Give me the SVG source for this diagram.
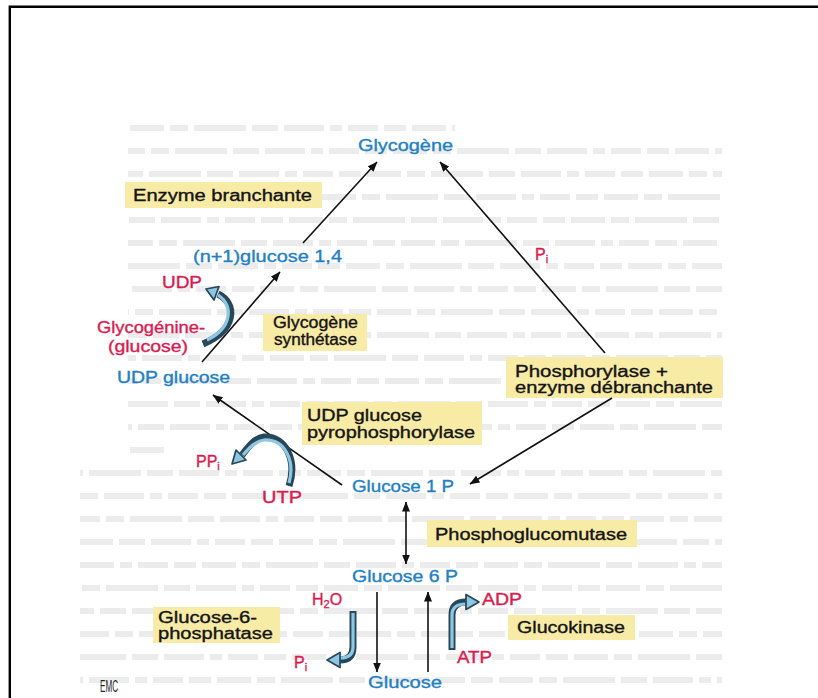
<svg xmlns="http://www.w3.org/2000/svg" width="818" height="698" viewBox="0 0 818 698">
  <style>
    text { font-family: "Liberation Sans", Arial, Helvetica, sans-serif; font-size: 16px; stroke-width: 0.35px; }
    .b { fill: #1f80c4; stroke: #1f80c4; }
    .r { fill: #d91c50; stroke: #d91c50; }
    .k { fill: #141414; stroke: #141414; }
    .box { fill: #f8eba6; }
    .thin { stroke: #111; stroke-width: 1.6; fill: none; marker-end: url(#ah); }
    .both { marker-start: url(#ah); }
    .fat-o { stroke: #27475a; stroke-width: 7; fill: none; stroke-linecap: butt; }
    .fat-i { stroke: #8fc6e2; stroke-width: 3.2; fill: none; }
    .head { fill: #8fc6e2; stroke: #27475a; stroke-width: 1.7; stroke-linejoin: round; }
    .bleed { stroke: #ececec; stroke-width: 6; fill: none; stroke-dasharray: 34 6 18 6 52 6 26 6 40 6 12 6 30 6 22 6; }
  </style>
  <defs>
    <marker id="ah" viewBox="0 0 10 8" refX="9.5" refY="4" markerWidth="10" markerHeight="8" markerUnits="userSpaceOnUse" orient="auto-start-reverse">
      <path d="M0,0 L10,4 L0,8 z" fill="#111"/>
    </marker>
  </defs>

  <rect width="818" height="698" fill="#ffffff"/>

  <!-- show-through of the reverse page -->
  <g id="page-texture" class="bleed">
    <path d="M130 128 H455" style="stroke-dashoffset:0"/>
    <path d="M128 151 H722" style="stroke-dashoffset:17"/>
    <path d="M128 174 H722" style="stroke-dashoffset:43"/>
    <path d="M128 197 H722" style="stroke-dashoffset:88"/>
    <path d="M128 220 H722" style="stroke-dashoffset:121"/>
    <path d="M128 243 H722" style="stroke-dashoffset:9"/>
    <path d="M128 266 H722" style="stroke-dashoffset:64"/>
    <path d="M128 289 H722" style="stroke-dashoffset:150"/>
    <path d="M128 312 H722" style="stroke-dashoffset:33"/>
    <path d="M128 335 H722" style="stroke-dashoffset:97"/>
    <path d="M128 358 H722" style="stroke-dashoffset:140"/>
    <path d="M128 381 H722" style="stroke-dashoffset:25"/>
    <path d="M128 404 H722" style="stroke-dashoffset:76"/>
    <path d="M128 427 H722" style="stroke-dashoffset:112"/>
    <path d="M130 450 H166" style="stroke-dashoffset:0"/>
    <path d="M80 473 H722" style="stroke-dashoffset:55"/>
    <path d="M80 496 H722" style="stroke-dashoffset:130"/>
    <path d="M80 519 H722" style="stroke-dashoffset:14"/>
    <path d="M80 542 H722" style="stroke-dashoffset:83"/>
    <path d="M80 565 H722" style="stroke-dashoffset:160"/>
    <path d="M80 588 H722" style="stroke-dashoffset:38"/>
    <path d="M80 611 H722" style="stroke-dashoffset:102"/>
    <path d="M80 634 H722" style="stroke-dashoffset:5"/>
    <path d="M80 657 H722" style="stroke-dashoffset:70"/>
    <path d="M80 680 H722" style="stroke-dashoffset:145"/>
  </g>

  <!-- page frame -->
  <path d="M9.8 698 V6.8 H818" stroke="#000" stroke-width="2.4" fill="none"/>

  <!-- enzyme boxes -->
  <g id="enzyme-branchante">
    <rect class="box" x="125" y="182" width="197" height="26"/>
    <text class="k" x="133" y="201" textLength="179" lengthAdjust="spacingAndGlyphs">Enzyme branchante</text>
  </g>
  <g id="glycogene-synthetase">
    <rect class="box" x="263" y="314" width="104" height="37"/>
    <text class="k" x="273" y="328" textLength="85" lengthAdjust="spacingAndGlyphs">Glycogène</text>
    <text class="k" x="274" y="345" textLength="83" lengthAdjust="spacingAndGlyphs">synthétase</text>
  </g>
  <g id="phosphorylase">
    <rect class="box" x="506" y="357" width="217" height="41"/>
    <text class="k" x="515" y="377" textLength="153" lengthAdjust="spacingAndGlyphs">Phosphorylase +</text>
    <text class="k" x="515" y="393" textLength="198" lengthAdjust="spacingAndGlyphs">enzyme débranchante</text>
  </g>
  <g id="udp-pyrophosphorylase">
    <rect class="box" x="302" y="402" width="180" height="43"/>
    <text class="k" x="307" y="421" textLength="115" lengthAdjust="spacingAndGlyphs">UDP glucose</text>
    <text class="k" x="307" y="438" textLength="168" lengthAdjust="spacingAndGlyphs">pyrophosphorylase</text>
  </g>
  <g id="phosphoglucomutase">
    <rect class="box" x="427" y="520" width="210" height="27"/>
    <text class="k" x="435" y="540" textLength="192" lengthAdjust="spacingAndGlyphs">Phosphoglucomutase</text>
  </g>
  <g id="glucokinase">
    <rect class="box" x="508" y="615" width="127" height="25"/>
    <text class="k" x="517" y="633" textLength="108" lengthAdjust="spacingAndGlyphs">Glucokinase</text>
  </g>
  <g id="glucose-6-phosphatase">
    <rect class="box" x="153" y="607" width="127" height="36"/>
    <text class="k" x="158" y="623" textLength="99" lengthAdjust="spacingAndGlyphs">Glucose-6-</text>
    <text class="k" x="158" y="639" textLength="115" lengthAdjust="spacingAndGlyphs">phosphatase</text>
  </g>

  <!-- connectors -->
  <g id="connectors">
    <line class="thin" x1="303" y1="243" x2="377" y2="162"/>
    <line class="thin" x1="202" y1="362" x2="280" y2="272"/>
    <line class="thin" x1="605" y1="353" x2="440" y2="162"/>
    <line class="thin" x1="612" y1="398" x2="470" y2="484"/>
    <line class="thin" x1="342" y1="485" x2="213" y2="395"/>
    <line class="thin both" x1="406" y1="502" x2="406" y2="564"/>
    <line class="thin" x1="377" y1="592" x2="377" y2="672"/>
    <line class="thin" x1="428" y1="672" x2="428" y2="592"/>

    <!-- Glycogénine -> UDP -->
    <path class="fat-o" d="M203 344 C236 330 238 304 218 294"/>
    <path class="fat-i" d="M207 340 C232 328 234 306 218 295"/>
    <polygon class="head" points="206,289 219,286.5 214,300"/>
    <!-- UTP -> PPi -->
    <path class="fat-o" d="M289 486 C297 462 287 436 264 437 C255 438 249 446 242 455"/>
    <path class="fat-i" d="M289 483 C295 462 286 439 264 440 C256 441 250 447 243 455"/>
    <polygon class="head" points="232,464 236,450 246,460"/>
    <!-- H2O -> Pi -->
    <path class="fat-o" d="M353 611 L353 647 Q353 660 340 660"/>
    <path class="fat-i" d="M353 613 L353 647 Q353 658 340 658"/>
    <polygon class="head" points="327,660 340,652.5 340,667.5"/>
    <!-- ATP -> ADP -->
    <path class="fat-o" d="M452 650 L452 615 Q452 602 466 602"/>
    <path class="fat-i" d="M452 648 L452 615 Q452 604 466 604"/>
    <polygon class="head" points="479,602 466,594.5 466,609.5"/>
  </g>

  <!-- metabolites -->
  <g id="glycogene"><text class="b" x="358" y="151" textLength="95" lengthAdjust="spacingAndGlyphs">Glycogène</text></g>
  <g id="n1-glucose"><text class="b" x="193" y="262" textLength="149" lengthAdjust="spacingAndGlyphs">(n+1)glucose 1,4</text></g>
  <g id="udp-glucose"><text class="b" x="117" y="383" textLength="113" lengthAdjust="spacingAndGlyphs">UDP glucose</text></g>
  <g id="glucose-1p"><text class="b" x="352" y="492" textLength="102" lengthAdjust="spacingAndGlyphs">Glucose 1 P</text></g>
  <g id="glucose-6p"><text class="b" x="352" y="582" textLength="106" lengthAdjust="spacingAndGlyphs">Glucose 6 P</text></g>
  <g id="glucose"><text class="b" x="368" y="688" textLength="74" lengthAdjust="spacingAndGlyphs">Glucose</text></g>

  <!-- cofactors -->
  <g id="udp"><text class="r" x="162" y="288" textLength="40" lengthAdjust="spacingAndGlyphs">UDP</text></g>
  <g id="glycogenine">
    <text class="r" x="97" y="333" textLength="108" lengthAdjust="spacingAndGlyphs">Glycogénine-</text>
    <text class="r" x="108" y="352" textLength="80" lengthAdjust="spacingAndGlyphs">(glucose)</text>
  </g>
  <g id="pi-top"><text class="r" x="535" y="260">P<tspan font-size="11" dy="3">i</tspan></text></g>
  <g id="ppi"><text class="r" x="196" y="467">PP<tspan font-size="11" dy="3">i</tspan></text></g>
  <g id="utp"><text class="r" x="262" y="503" textLength="40" lengthAdjust="spacingAndGlyphs">UTP</text></g>
  <g id="h2o"><text class="r" x="312" y="605">H<tspan font-size="11" dy="3">2</tspan><tspan dy="-3">O</tspan></text></g>
  <g id="adp"><text class="r" x="482" y="605" textLength="40" lengthAdjust="spacingAndGlyphs">ADP</text></g>
  <g id="atp"><text class="r" x="457" y="663" textLength="35" lengthAdjust="spacingAndGlyphs">ATP</text></g>
  <g id="pi-bottom"><text class="r" x="294" y="668">P<tspan font-size="11" dy="3">i</tspan></text></g>

  <!-- publisher mark -->
  <text x="100" y="692" font-size="14" fill="#222" textLength="18" lengthAdjust="spacingAndGlyphs">EMC</text>
</svg>
